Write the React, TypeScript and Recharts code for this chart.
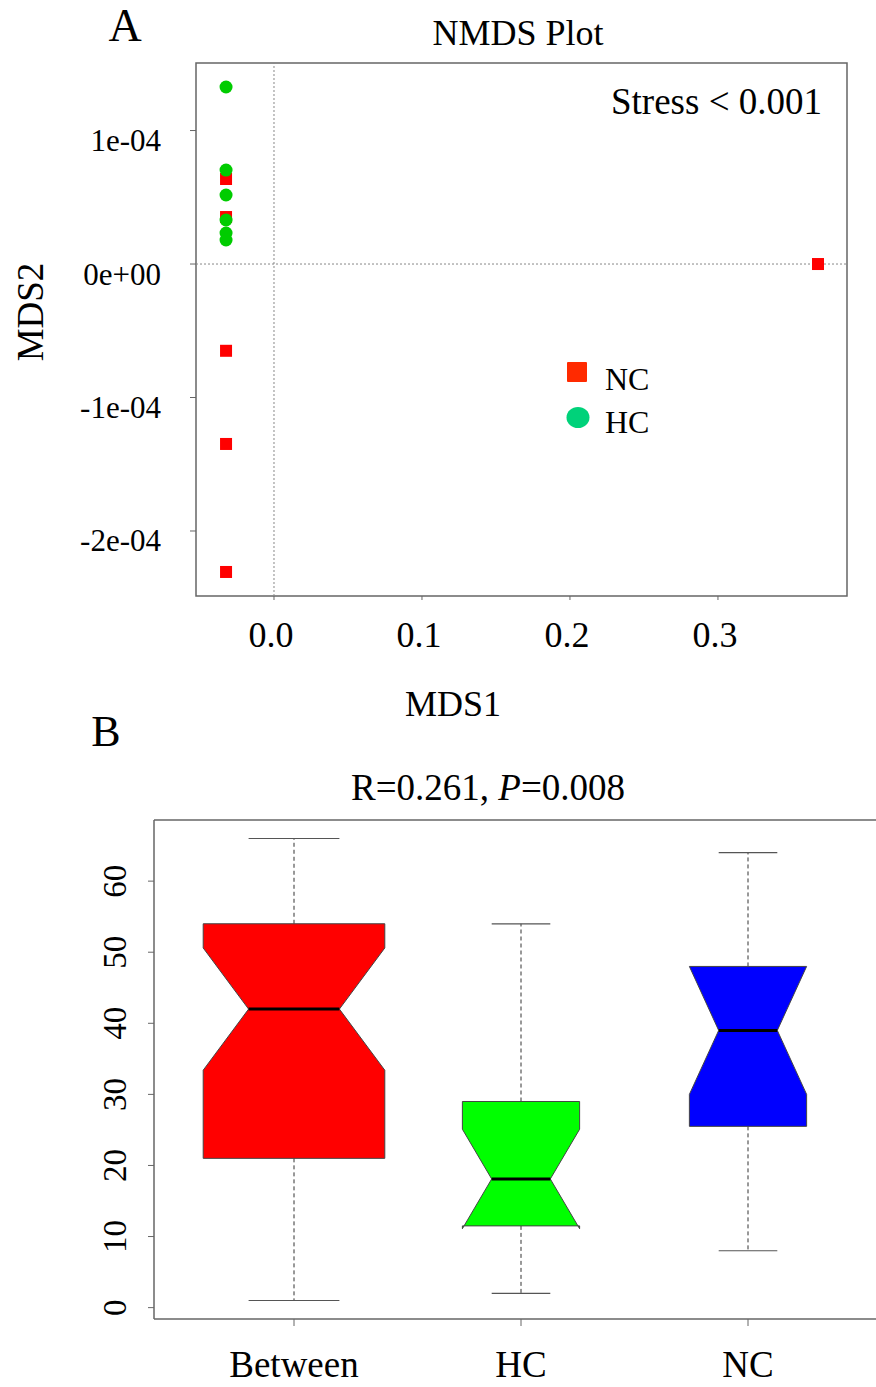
import React from 'react';
import {
  ScatterChart,
  Scatter,
  ComposedChart,
  Bar,
  XAxis,
  YAxis,
  ReferenceLine,
  ReferenceArea,
  Label,
  Legend
} from 'recharts';

const FONT = '"Liberation Serif", "Times New Roman", serif';

// panel A: NMDS coordinates per group
const ncMds1 = [-0.0324, -0.0324, -0.0324, -0.0324, -0.0324, 0.3676];
const ncMds2 = [6.37e-5, 3.52e-5, -6.5e-5, -1.348e-4, -2.307e-4, 0];
const hcMds1 = [-0.0324, -0.0324, -0.0324, -0.0324, -0.0324, -0.0324];
const hcMds2 = [1.326e-4, 7.04e-5, 5.17e-5, 3.3e-5, 2.32e-5, 1.8e-5];

const mdsXTicks = [0, 0.1, 0.2, 0.3];
const mdsXTickLabels = ['0.0', '0.1', '0.2', '0.3'];
const mdsYTicks = [-2e-4, -1e-4, 0, 1e-4];
const mdsYTickLabels = ['-2e-04', '-1e-04', '0e+00', '1e-04'];
const mdsXDomain = [-0.0527, 0.3872];
const mdsYDomain = [-2.487e-4, 1.506e-4];
const legendOrder = ['NC', 'HC'];

// panel B: notched boxplot stats (ANOSIM ranks)
const groups = ['Between', 'HC', 'NC'];
const whiskerLow = [1, 2, 8];
const q1 = [21, 11.5, 25.5];
const notchLow = [33.4, 11.1, 30];
const median = [42, 18.1, 39];
const notchHigh = [50.6, 25.1, 48];
const q3 = [54, 29, 48];
const whiskerHigh = [66, 54, 64];
const pairCounts = [36, 15, 15];
const rankTicks = [0, 10, 20, 30, 40, 50, 60];
const rankDomain = [-1.6, 68.6];

const boxColors = ['#ff0000', '#00ff00', '#0000ff'];

const ncPoints = ncMds1.map((x, i) => ({ x, y: ncMds2[i] }));
const hcPoints = hcMds1.map((x, i) => ({ x, y: hcMds2[i] }));
const maxN = Math.max(...pairCounts);
const boxData = groups.map((group, i) => ({
  group,
  min: whiskerLow[i],
  q1: q1[i],
  nLow: notchLow[i],
  med: median[i],
  nHigh: notchHigh[i],
  q3: q3[i],
  max: whiskerHigh[i],
  n: pairCounts[i]
}));

const SquareDot = (p: any) => (
  <rect x={p.cx - 6} y={p.cy - 6} width={12} height={12} fill="#ff0000" />
);
const CircleDot = (p: any) => <circle cx={p.cx} cy={p.cy} r={6.5} fill="#00cc00" />;

const XTickA = (p: any) => {
  const i = mdsXTicks.indexOf(p.payload.value);
  return (
    <text x={p.x - 3} y={p.y + 45} textAnchor="middle" fontSize={36} fontFamily={FONT} fill="#000">
      {mdsXTickLabels[i]}
    </text>
  );
};

const YTickA = (p: any) => {
  const i = mdsYTicks.indexOf(p.payload.value);
  return (
    <text x={p.x - 27} y={p.y + 10} textAnchor="end" dominantBaseline="central" fontSize={31} fontFamily={FONT} fill="#000">
      {mdsYTickLabels[i]}
    </text>
  );
};

const NmdsLegend = (props: any) => {
  const items = [...(props.payload || [])].sort(
    (a: any, b: any) => legendOrder.indexOf(a.value) - legendOrder.indexOf(b.value)
  );
  return (
    <svg width={110} height={90}>
      {items.map((it: any, i: number) => (
        <g key={it.value} transform={`translate(0, ${i * 45})`}>
          {it.value === 'NC' ? (
            <rect x={7} y={7} width={20} height={20} rx={1} fill="#ff2a00" />
          ) : (
            <ellipse cx={18} cy={17.5} rx={11.5} ry={10.5} fill="#00d27a" />
          )}
          <text x={45} y={35 - i * 2} fontSize={32} fontFamily={FONT} fill="#000">
            {it.value}
          </text>
        </g>
      ))}
    </svg>
  );
};

const XTickB = (p: any) => (
  <text x={p.x} y={p.y + 49} textAnchor="middle" fontSize={37} fontFamily={FONT} fill="#000">
    {p.payload.value}
  </text>
);

const YTickB = (p: any) => {
  const tx = p.x - 20;
  return (
    <text
      x={tx}
      y={p.y}
      textAnchor="middle"
      transform={`rotate(-90 ${tx} ${p.y})`}
      fontSize={33}
      fontFamily={FONT}
      fill="#000"
    >
      {p.payload.value}
    </text>
  );
};

const NotchBox = (props: any) => {
  const { x, y, width, height, payload, index } = props;
  const k = height / (payload.max - payload.min);
  const py = (v: number) => y + (payload.max - v) * k;
  const cx = x + width / 2;
  const w = 0.4 * width * Math.sqrt(payload.n / maxN);
  const pts = [
    [cx - w, py(payload.q1)],
    [cx - w, py(payload.nLow)],
    [cx - w / 2, py(payload.med)],
    [cx - w, py(payload.nHigh)],
    [cx - w, py(payload.q3)],
    [cx + w, py(payload.q3)],
    [cx + w, py(payload.nHigh)],
    [cx + w / 2, py(payload.med)],
    [cx + w, py(payload.nLow)],
    [cx + w, py(payload.q1)]
  ];
  return (
    <g>
      <line x1={cx} x2={cx} y1={py(payload.q3)} y2={py(payload.max)} stroke="#333" strokeDasharray="4 3" />
      <line x1={cx} x2={cx} y1={py(payload.q1)} y2={py(payload.min)} stroke="#333" strokeDasharray="4 3" />
      <line x1={cx - w / 2} x2={cx + w / 2} y1={py(payload.max)} y2={py(payload.max)} stroke="#555" strokeWidth={1.2} />
      <line x1={cx - w / 2} x2={cx + w / 2} y1={py(payload.min)} y2={py(payload.min)} stroke="#555" strokeWidth={1.2} />
      <polygon points={pts.map((q) => q.join(',')).join(' ')} fill={boxColors[index]} stroke="#444" strokeWidth={1} />
      <line x1={cx - w / 2} x2={cx + w / 2} y1={py(payload.med)} y2={py(payload.med)} stroke="#000" strokeWidth={3} />
    </g>
  );
};

export default function App() {
  return (
    <div style={{ position: 'absolute', left: 0, top: 0, width: 876, height: 1387, background: '#fff', fontFamily: FONT }}>
      <div style={{ position: 'absolute', left: 0, top: 0 }}>
        <ScatterChart width={876} height={730} margin={{ top: 63, right: 29, bottom: 14, left: 0 }}>
          <XAxis
            type="number"
            dataKey="x"
            domain={mdsXDomain}
            ticks={mdsXTicks}
            allowDataOverflow
            interval={0}
            height={120}
            axisLine={false}
            tickLine={{ stroke: '#666' }}
            tickSize={4}
            tick={<XTickA />}
          />
          <YAxis
            type="number"
            dataKey="y"
            domain={mdsYDomain}
            ticks={mdsYTicks}
            allowDataOverflow
            interval={0}
            width={196}
            axisLine={false}
            tickLine={{ stroke: '#666' }}
            tickSize={6}
            tick={<YTickA />}
          />
          <ReferenceLine x={0} stroke="#888" strokeDasharray="2 2" />
          <ReferenceLine y={0} stroke="#888" strokeDasharray="2 2" />
          <ReferenceArea
            x1={mdsXDomain[0]}
            x2={mdsXDomain[1]}
            y1={mdsYDomain[0]}
            y2={mdsYDomain[1]}
            fill="none"
            fillOpacity={0}
            stroke="#666"
            strokeWidth={1.5}
            ifOverflow="visible"
          >
            <Label
              value="Stress < 0.001"
              position="insideTopRight"
              offset={25}
              fontSize={37}
              fontFamily={FONT}
              fill="#000"
            />
          </ReferenceArea>
          <Scatter name="NC" data={ncPoints} fill="#ff2a00" shape={SquareDot} isAnimationActive={false} />
          <Scatter name="HC" data={hcPoints} fill="#00d27a" shape={CircleDot} isAnimationActive={false} />
          <Legend
            layout="horizontal"
            verticalAlign="middle"
            align="center"
            content={<NmdsLegend />}
            wrapperStyle={{ position: 'absolute', left: 560, top: 355, width: 110, height: 90 }}
          />
        </ScatterChart>
      </div>

      <div style={{ position: 'absolute', left: 0, top: 700 }}>
        <ComposedChart
          width={876}
          height={687}
          data={boxData}
          margin={{ top: 120, right: 0, bottom: 0, left: 0 }}
          barCategoryGap={0}
        >
          <XAxis
            dataKey="group"
            padding={{ left: 26.5, right: 14.5 }}
            height={68}
            interval={0}
            axisLine={{ stroke: '#666', strokeWidth: 1.5 }}
            tickLine={{ stroke: '#666' }}
            tickSize={7}
            tick={<XTickB />}
          />
          <YAxis
            type="number"
            domain={rankDomain}
            ticks={rankTicks}
            allowDataOverflow
            interval={0}
            width={154}
            axisLine={{ stroke: '#666', strokeWidth: 1.5 }}
            tickLine={{ stroke: '#666' }}
            tickSize={6}
            tick={<YTickB />}
          />
          <ReferenceLine y={rankDomain[1]} stroke="#666" strokeWidth={1.5} ifOverflow="visible" />
          <Bar dataKey={(d: any) => [d.min, d.max]} shape={<NotchBox />} isAnimationActive={false} />
        </ComposedChart>
      </div>

      <svg
        width={876}
        height={1387}
        style={{ position: 'absolute', left: 0, top: 0, pointerEvents: 'none' }}
        fontFamily={FONT}
      >
        <text x={125} y={41} textAnchor="middle" fontSize={46}>A</text>
        <text x={518} y={45} textAnchor="middle" fontSize={36}>NMDS Plot</text>
        <text x={453} y={716} textAnchor="middle" fontSize={36}>MDS1</text>
        <text x={43} y={312} textAnchor="middle" fontSize={37} transform="rotate(-90 43 312)">MDS2</text>
        <text x={106} y={746} textAnchor="middle" fontSize={44}>B</text>
        <text x={488} y={800} textAnchor="middle" fontSize={37}>
          R=0.261, <tspan fontStyle="italic">P</tspan>=0.008
        </text>
      </svg>
    </div>
  );
}
